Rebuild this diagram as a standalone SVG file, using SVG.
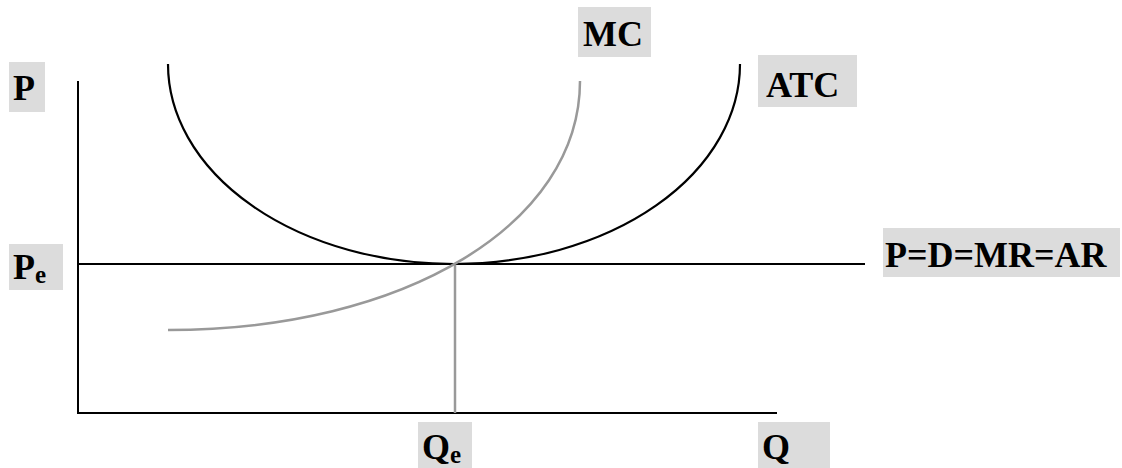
<svg xmlns="http://www.w3.org/2000/svg" width="1122" height="468" viewBox="0 0 1122 468">
<style>
.lbl{fill:#dcdcdc}
.t{font-family:"Liberation Serif","Times New Roman",serif;font-weight:bold;font-size:36px;fill:#000}
.s{font-size:25px}
.ax{stroke:#000;stroke-width:2;fill:none}
.blk{stroke:#000;stroke-width:2.2;fill:none}
.gry{stroke:#999;stroke-width:2.5;fill:none}
</style>
<rect width="1122" height="468" fill="#fff"/>
<g id="connectors">
<line class="ax" x1="78" y1="81" x2="78" y2="414"/>
<line class="ax" x1="77" y1="413" x2="777" y2="413"/>
<line class="ax" x1="78" y1="264" x2="865" y2="264"/>
<line class="gry" x1="455" y1="264" x2="455" y2="413"/>
<path class="blk" d="M168,64 A286,200 0 0 0 740,64"/>
<path class="gry" d="M168,330 C405,330 580,224 580,81"/>
</g>
<g id="label-MC"><rect class="lbl" x="578" y="7" width="73" height="50"/><text class="t" x="583" y="46">MC</text></g>
<g id="label-P"><rect class="lbl" x="9" y="62" width="36" height="50"/><text class="t" x="13" y="100">P</text></g>
<g id="label-ATC"><rect class="lbl" x="758" y="55" width="99" height="52"/><text class="t" x="766" y="97">ATC</text></g>
<g id="label-Pe"><rect class="lbl" x="9" y="244" width="54" height="46"/><text class="t" x="13" y="279">P<tspan class="s" dy="4">e</tspan></text></g>
<g id="label-PDMRAR"><rect class="lbl" x="883" y="228" width="237" height="49"/><text class="t" x="885" y="267">P=D=MR=AR</text></g>
<g id="label-Qe"><rect class="lbl" x="418" y="422" width="54" height="46"/><text class="t" x="422" y="459">Q<tspan class="s" dy="4">e</tspan></text></g>
<g id="label-Q"><rect class="lbl" x="758" y="422" width="72" height="46"/><text class="t" x="762" y="459">Q</text></g>
</svg>
